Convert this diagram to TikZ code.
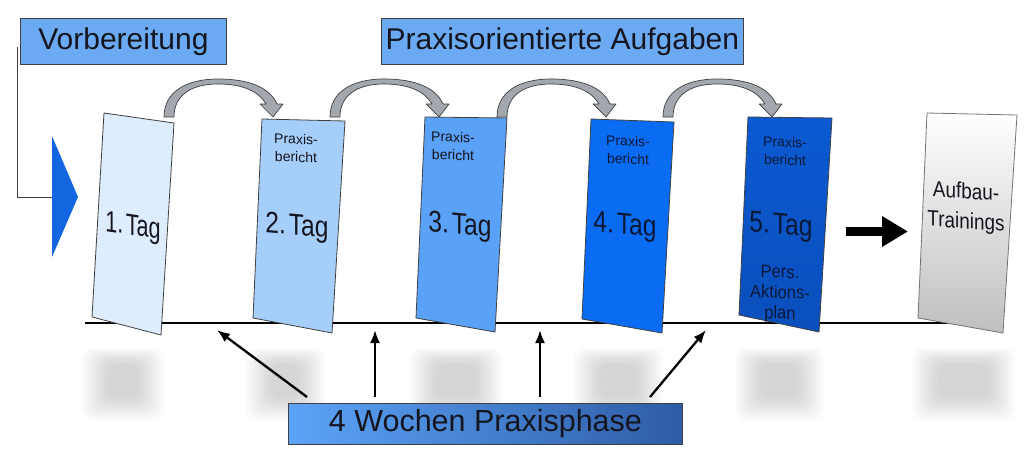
\documentclass[tikz,border=0pt]{standalone}
\usepackage{fontspec}
\setmainfont{Liberation Sans}
\usetikzlibrary{arrows.meta,calc}
\definecolor{hdrblue}{HTML}{6BAAF2}
\definecolor{cA}{HTML}{DDEDFD}
\definecolor{cB}{HTML}{A6CEFB}
\definecolor{cC}{HTML}{5AA2F7}
\definecolor{cD}{HTML}{0A6CF2}
\definecolor{cE}{HTML}{0B5AD2}
\definecolor{cEd}{HTML}{0A4FBC}
\definecolor{triblue}{HTML}{1466E0}
\definecolor{arrgray}{HTML}{A3A7AE}
\definecolor{edge}{HTML}{404040}
\definecolor{ink}{HTML}{15151F}
\definecolor{navy}{HTML}{0A1838}
\definecolor{phL}{HTML}{5CA4F6}
\definecolor{phR}{HTML}{2E5CA6}
\newcommand{\tagsp}{\hspace{0.12em}}
\begin{document}
\begin{tikzpicture}[x=1pt,y=-1pt,
  hdr/.style={draw=edge, line width=0.8pt, fill=hdrblue, inner sep=0pt, text=ink,
    font=\fontsize{30}{36}\selectfont, anchor=north west},
  cardbox/.style={draw=edge, line width=0.8pt},
  tagtext/.style={font=\fontsize{30}{34}\selectfont, inner sep=0pt, yslant=-0.09},
  smalltext/.style={font=\fontsize{14}{18}\selectfont, align=center, inner sep=0pt, yslant=-0.03},
  curvearrow/.style={fill=arrgray, draw=edge, line width=0.7pt, line join=round},
  upline/.style={line width=2.3pt, -{Latex[length=13pt,width=10pt]}},
  shadowbit/.style={fill=gray, opacity=0.032, rounded corners=10pt}
]
\useasboundingbox (0,0) rectangle (1024,455);
\fill[white] (0,0) rectangle (1024,455);

% blurred shadows below the cards
\foreach \a/\b in {92/154,256/315,420/492,584/653,745/814,922/1005}{
  \foreach \i in {0,...,10}{
    \fill[shadowbit] ({\a+16-\i*2.6},{364-\i*1.6}) rectangle ({\b-16+\i*2.6},{398+\i*2.2});
  }
}

% base line
\coordinate (bl) at (85,323);
\coordinate (br) at (955,323);
\draw[line width=2.8pt, black] (bl) -- (br);

% header boxes
\node[hdr, minimum width=206pt, minimum height=46pt] (vorb) at (20,18) {Vorbereitung};
\node[hdr, minimum width=362pt, minimum height=46pt] (prax) at (381,18) {Praxisorientierte Aufgaben};

% connector from Vorbereitung to the triangle
\coordinate (vl) at (17,47);
\coordinate (tri) at (52,197);
\draw[line width=0.9pt, edge] (vl) |- (tri);
\fill[triblue] (52,136) -- (78,197) -- (52,257) -- cycle;

% cards
\filldraw[cardbox, fill=cA] (104,113) -- (174,123) -- (161,335) -- (92,317) -- cycle;
\filldraw[cardbox, fill=cB] (262,119) -- (345,121) -- (332,333) -- (253,318) -- cycle;
\filldraw[cardbox, fill=cC] (425,117) -- (507,118) -- (495,332) -- (416,318) -- cycle;
\filldraw[cardbox, fill=cD] (591,119) -- (674,122) -- (662,333) -- (582,319) -- cycle;
\shade[top color=cE, bottom color=cEd] (748,117) -- (832,118) -- (819,332) -- (739,315) -- cycle;
\draw[cardbox] (748,117) -- (832,118) -- (819,332) -- (739,315) -- cycle;
\shade[top color=white, bottom color=black!25] (927,113) -- (1017,115) -- (1003,333) -- (918,318) -- cycle;
\draw[cardbox, draw=black!55] (927,113) -- (1017,115) -- (1003,333) -- (918,318) -- cycle;

% card texts
\node[tagtext, text=ink, yslant=-0.06] (t1) at (133,228) {\scalebox{0.72}[1]{1.\tagsp Tag}};
\node[smalltext, text=ink] (p2) at (296,148) {Praxis-\\bericht};
\node[tagtext, text=ink] (t2) at (297,228) {\scalebox{0.82}[1]{2.\tagsp Tag}};
\node[smalltext, text=ink] (p3) at (453,146) {Praxis-\\bericht};
\node[tagtext, text=ink] (t3) at (460,227) {\scalebox{0.82}[1]{3.\tagsp Tag}};
\node[smalltext, text=navy] (p4) at (628,150) {Praxis-\\bericht};
\node[tagtext, text=navy] (t4) at (625,227) {\scalebox{0.82}[1]{4.\tagsp Tag}};
\node[smalltext, text=navy] (p5) at (785,151) {Praxis-\\bericht};
\node[tagtext, text=navy] (t5) at (781,227) {\scalebox{0.82}[1]{5.\tagsp Tag}};
\node[font=\fontsize{18}{20.5}\selectfont, align=center, inner sep=0pt, text=navy, yslant=-0.04] (a5) at (780,294) {\scalebox{0.92}[1]{Pers.}\\\scalebox{0.92}[1]{Aktions-}\\\scalebox{0.92}[1]{plan}};
\node[font=\fontsize{22}{30}\selectfont, align=center, inner sep=0pt, text=ink, yslant=-0.07] (auf) at (966,208) {\scalebox{0.86}[1]{Aufbau-}\\\scalebox{0.86}[1]{Trainings}};

% curved grey arrows between the cards
\foreach \xs in {164,330,497,663}{
  \begin{scope}[shift={(\xs,0)}]
    \filldraw[curvearrow] (0,117) .. controls (0,92) and (22,79) .. (54,79)
      .. controls (86,79) and (106,88) .. (113,104) -- (119,104) -- (109,117)
      -- (96,104) -- (102,104) .. controls (95,92) and (80,84) .. (54,84)
      .. controls (26,84) and (10,96) .. (10,117) -- cycle;
  \end{scope}
}

% black arrow to Aufbau-Trainings
\coordinate (ra) at (846,231.5);
\coordinate (rb) at (908,231.5);
\draw[line width=9pt, -{Triangle[length=26pt,width=29pt]}] (ra) -- (rb);

% bottom box
\node[draw=edge, line width=0.8pt, left color=phL, right color=phR, inner sep=0pt,
  minimum width=394pt, minimum height=41pt, anchor=north west, text=ink,
  font=\fontsize{30.5}{34}\selectfont] (phase) at (288,403) {4 Wochen Praxisphase};

% arrows from bottom box to the base line
\coordinate (s1) at (307,397); \coordinate (e1) at (217,330);
\coordinate (s2) at (375,397); \coordinate (e2) at (375,330);
\coordinate (s3) at (540,397); \coordinate (e3) at (540,330);
\coordinate (s4) at (650,397); \coordinate (e4) at (706,330);
\draw[upline] (s1) -- (e1);
\draw[upline] (s2) -- (e2);
\draw[upline] (s3) -- (e3);
\draw[upline] (s4) -- (e4);
\end{tikzpicture}
\end{document}
